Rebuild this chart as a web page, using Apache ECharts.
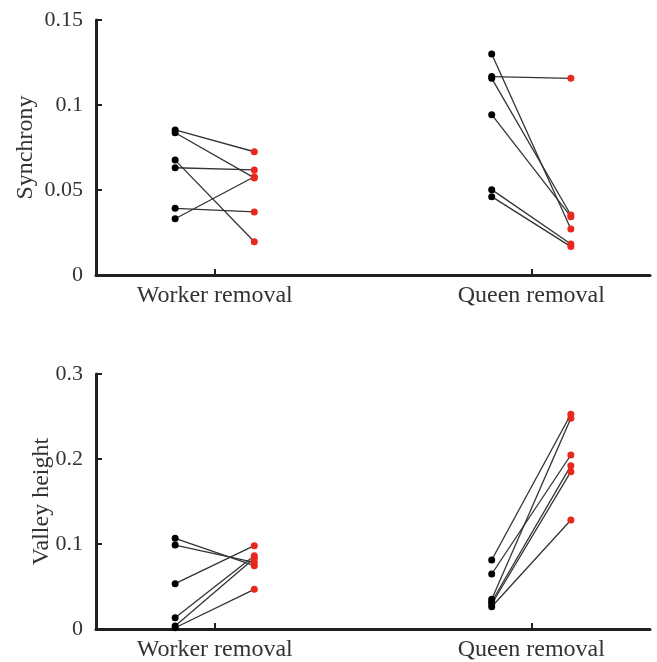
<!DOCTYPE html>
<html>
<head>
<meta charset="utf-8">
<script src="https://cdn.jsdelivr.net/npm/echarts@6/dist/echarts.min.js"></script>
<style>
html,body{margin:0;padding:0;background:#fff;}
#chart{width:657px;height:662px;}
</style>
</head>
<body>
<div id="chart"></div>
<script>
// Categories (x positions 1 and 2; before/after offset by ±0.125)
const categories = ['Worker removal', 'Queen removal'];
const categoryPos = [1, 2];

// Synchrony
const syncWorkerBefore = [0.0853, 0.0837, 0.0676, 0.0631, 0.0392, 0.0331];
const syncWorkerAfter  = [0.0725, 0.0571, 0.0196, 0.0618, 0.0371, 0.0578];
const syncQueenBefore  = [0.1300, 0.1167, 0.1157, 0.0943, 0.0502, 0.0461];
const syncQueenAfter   = [0.0271, 0.1157, 0.0353, 0.0343, 0.0182, 0.0167];

// Valley height
const valleyWorkerBefore = [0.1067, 0.0988, 0.0533, 0.0133, 0.0035, 0.0015];
const valleyWorkerAfter  = [0.0745, 0.0785, 0.0980, 0.0862, 0.0832, 0.0467];
const valleyQueenBefore  = [0.0812, 0.0647, 0.0349, 0.0321, 0.0294, 0.0262];
const valleyQueenAfter   = [0.2526, 0.2047, 0.2479, 0.1922, 0.1851, 0.1282];

const syncTicks = [0, 0.05, 0.1, 0.15];
const valleyTicks = [0, 0.1, 0.2, 0.3];

const FONT = '"Liberation Serif", "DejaVu Serif", serif';
const AXIS_COLOR = '#231f20';
const BLACK = '#000000';
const RED = '#e8281e';
const LINE = '#333333';
const OFF = 0.125;

function pairSeries(before, after, pos, gridIdx) {
  return before.map((b, i) => ({
    type: 'line',
    xAxisIndex: gridIdx,
    yAxisIndex: gridIdx,
    data: [
      { value: [pos - OFF, b], itemStyle: { color: BLACK } },
      { value: [pos + OFF, after[i]], itemStyle: { color: RED } }
    ],
    symbol: 'circle',
    symbolSize: 7,
    showSymbol: true,
    lineStyle: { color: LINE, width: 1.3 },
    itemStyle: { borderWidth: 0 },
    animation: false,
    silent: true,
    z: 3
  }));
}

function xAxisDef(gridIdx) {
  return {
    type: 'value',
    gridIndex: gridIdx,
    min: 0.625,
    max: 2.375,
    splitLine: { show: false },
    axisLine: { show: true, lineStyle: { color: AXIS_COLOR, width: 3 } },
    axisTick: { show: true, inside: true, length: 6, lineStyle: { color: AXIS_COLOR, width: 2 }, customValues: categoryPos },
    axisLabel: {
      show: true, customValues: categoryPos, margin: 9,
      formatter: v => categories[categoryPos.indexOf(Math.round(v))] || '',
      fontFamily: FONT, fontSize: 24, color: '#333'
    }
  };
}

function yAxisDef(gridIdx, ticks, name, gap) {
  return {
    type: 'value',
    gridIndex: gridIdx,
    min: ticks[0],
    max: ticks[ticks.length - 1],
    interval: ticks[1] - ticks[0],
    name: name,
    nameLocation: 'middle',
    nameGap: gap,
    nameMoveOverlap: false,
    nameTextStyle: { fontFamily: FONT, fontSize: 24, color: '#333' },
    splitLine: { show: false },
    axisLine: { show: true, lineStyle: { color: AXIS_COLOR, width: 3 } },
    axisTick: { show: true, inside: true, length: 6, lineStyle: { color: AXIS_COLOR, width: 2 } },
    axisLabel: {
      margin: 13,
      fontFamily: FONT, fontSize: 22, color: '#333',
      formatter: v => {
        let best = ticks.reduce((a, t) => Math.abs(t - v) < Math.abs(a - v) ? t : a, ticks[0]);
        return String(best);
      }
    }
  };
}

const chart = echarts.init(document.getElementById('chart'), null, { renderer: 'canvas' });
chart.setOption({
  animation: false,
  backgroundColor: '#fff',
  grid: [
    { left: 96, right: 7, top: 20, height: 255 },
    { left: 96, right: 7, top: 374, height: 255 }
  ],
  xAxis: [xAxisDef(0), xAxisDef(1)],
  yAxis: [yAxisDef(0, syncTicks, 'Synchrony', 58), yAxisDef(1, valleyTicks, 'Valley height', 42)],
  series: [
    ...pairSeries(syncWorkerBefore, syncWorkerAfter, categoryPos[0], 0),
    ...pairSeries(syncQueenBefore, syncQueenAfter, categoryPos[1], 0),
    ...pairSeries(valleyWorkerBefore, valleyWorkerAfter, categoryPos[0], 1),
    ...pairSeries(valleyQueenBefore, valleyQueenAfter, categoryPos[1], 1)
  ]
});
</script>
</body>
</html>
